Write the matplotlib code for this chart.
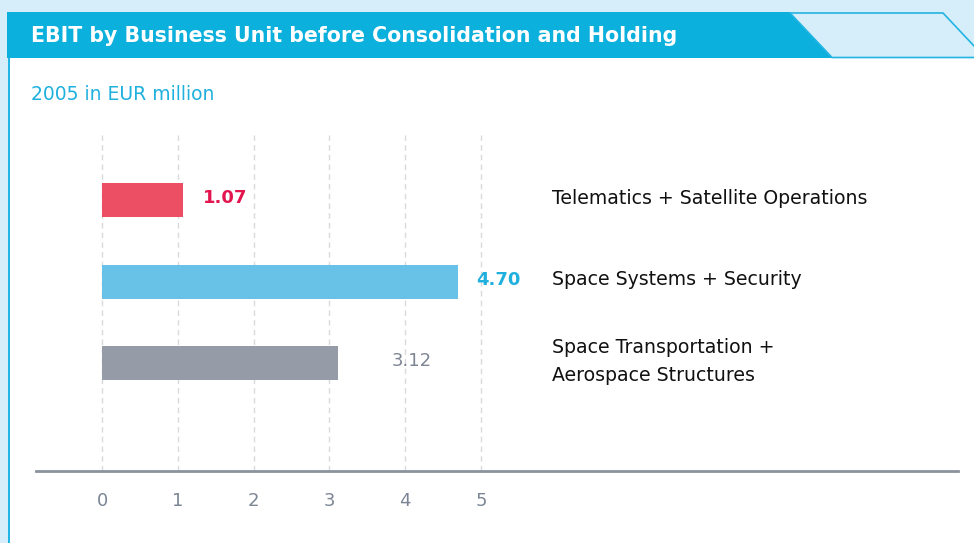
import matplotlib.pyplot as plt
from matplotlib.patches import Rectangle, Polygon

# data
units = ['Telematics + Satellite Operations',
         'Space Systems + Security',
         'Space Transportation +\nAerospace Structures']
ebit = [1.07, 4.70, 3.12]
value_labels = ['1.07', '4.70', '3.12']
ticks = [0, 1, 2, 3, 4, 5]

bar_colors = ['#ec4f63', '#68c1e6', '#959ca7']
label_colors = ['#e3154f', '#1fb0de', '#7d8593']
label_offsets = [0.26, 0.24, 0.70]

W, H = 974, 543
fig = plt.figure(figsize=(W / 100, H / 100), dpi=100)
fig.patch.set_facecolor('#d6eef9')

def px(x, y):
    # pixel coords (top-left origin) -> figure fraction
    return x / W, 1 - y / H

# white panel + left cyan border
fig.patches.append(Rectangle(px(8, 543), (W - 8) / W, (543 - 58) / H,
                             transform=fig.transFigure, facecolor='white',
                             edgecolor='none', zorder=0))
fig.patches.append(Rectangle(px(7.5, 543), 2.5 / W, (543 - 58) / H,
                             transform=fig.transFigure, facecolor='#22b4e2',
                             edgecolor='none', zorder=1))

# header bar
hdr = [px(7, 12), px(790, 12), px(832, 58), px(7, 58)]
fig.patches.append(Polygon(hdr, closed=True, transform=fig.transFigure,
                           facecolor='#0bb0dc', edgecolor='none', zorder=1))
deco = [px(790, 13), px(943, 13), px(975, 47), px(975, 57.5), px(832, 57.5)]
fig.patches.append(Polygon(deco, closed=True, transform=fig.transFigure,
                           facecolor='#d6eef9', edgecolor='#22b4e2',
                           linewidth=1.2, zorder=2))

fig.text(*px(31, 36), 'EBIT by Business Unit before Consolidation and Holding',
         color='white', fontsize=14.8, fontweight='bold', va='center',
         ha='left', family='DejaVu Sans')
fig.text(*px(31, 95), '2005 in EUR million', color='#1fb0de', fontsize=13.5,
         va='center', ha='left')

# axes: x from 36 to 958 px, y from 135 to 471 px
ax = fig.add_axes([36 / W, 1 - 471 / H, (958 - 36) / W, (471 - 135) / H])
ax.set_zorder(5)
ax.set_facecolor('none')
ppu = (481 - 102) / 5
ax.set_xlim((36 - 102) / ppu, (958 - 102) / ppu)
ax.set_ylim((471 - 200) / 81.5, -(200 - 135) / 81.5)

ypos = list(range(len(units)))
ax.barh(ypos, ebit, height=34 / 81.5, color=bar_colors, zorder=3)

for t in ticks:
    ax.axvline(t, color='#d8dadd', linestyle=(0, (4, 3)), linewidth=1, zorder=1)

for i, v in enumerate(ebit):
    ax.text(v + label_offsets[i], ypos[i] - 0.02, value_labels[i],
            color=label_colors[i], fontsize=13,
            fontweight='bold' if i < 2 else 'normal', va='center', ha='left')
    ax.text((552 - 102) / ppu, ypos[i] - 0.02, units[i], color='#111111',
            fontsize=13.6, va='center', ha='left', linespacing=1.6)

for s in ['top', 'right', 'left']:
    ax.spines[s].set_visible(False)
ax.spines['bottom'].set_color('#8a929c')
ax.spines['bottom'].set_linewidth(2)
ax.set_yticks([])
ax.set_xticks(ticks)
ax.set_xticklabels([str(t) for t in ticks], color='#7b8594', fontsize=13)
ax.tick_params(axis='x', length=0, pad=15)

fig.savefig('out.png', dpi=100, facecolor=fig.get_facecolor())
